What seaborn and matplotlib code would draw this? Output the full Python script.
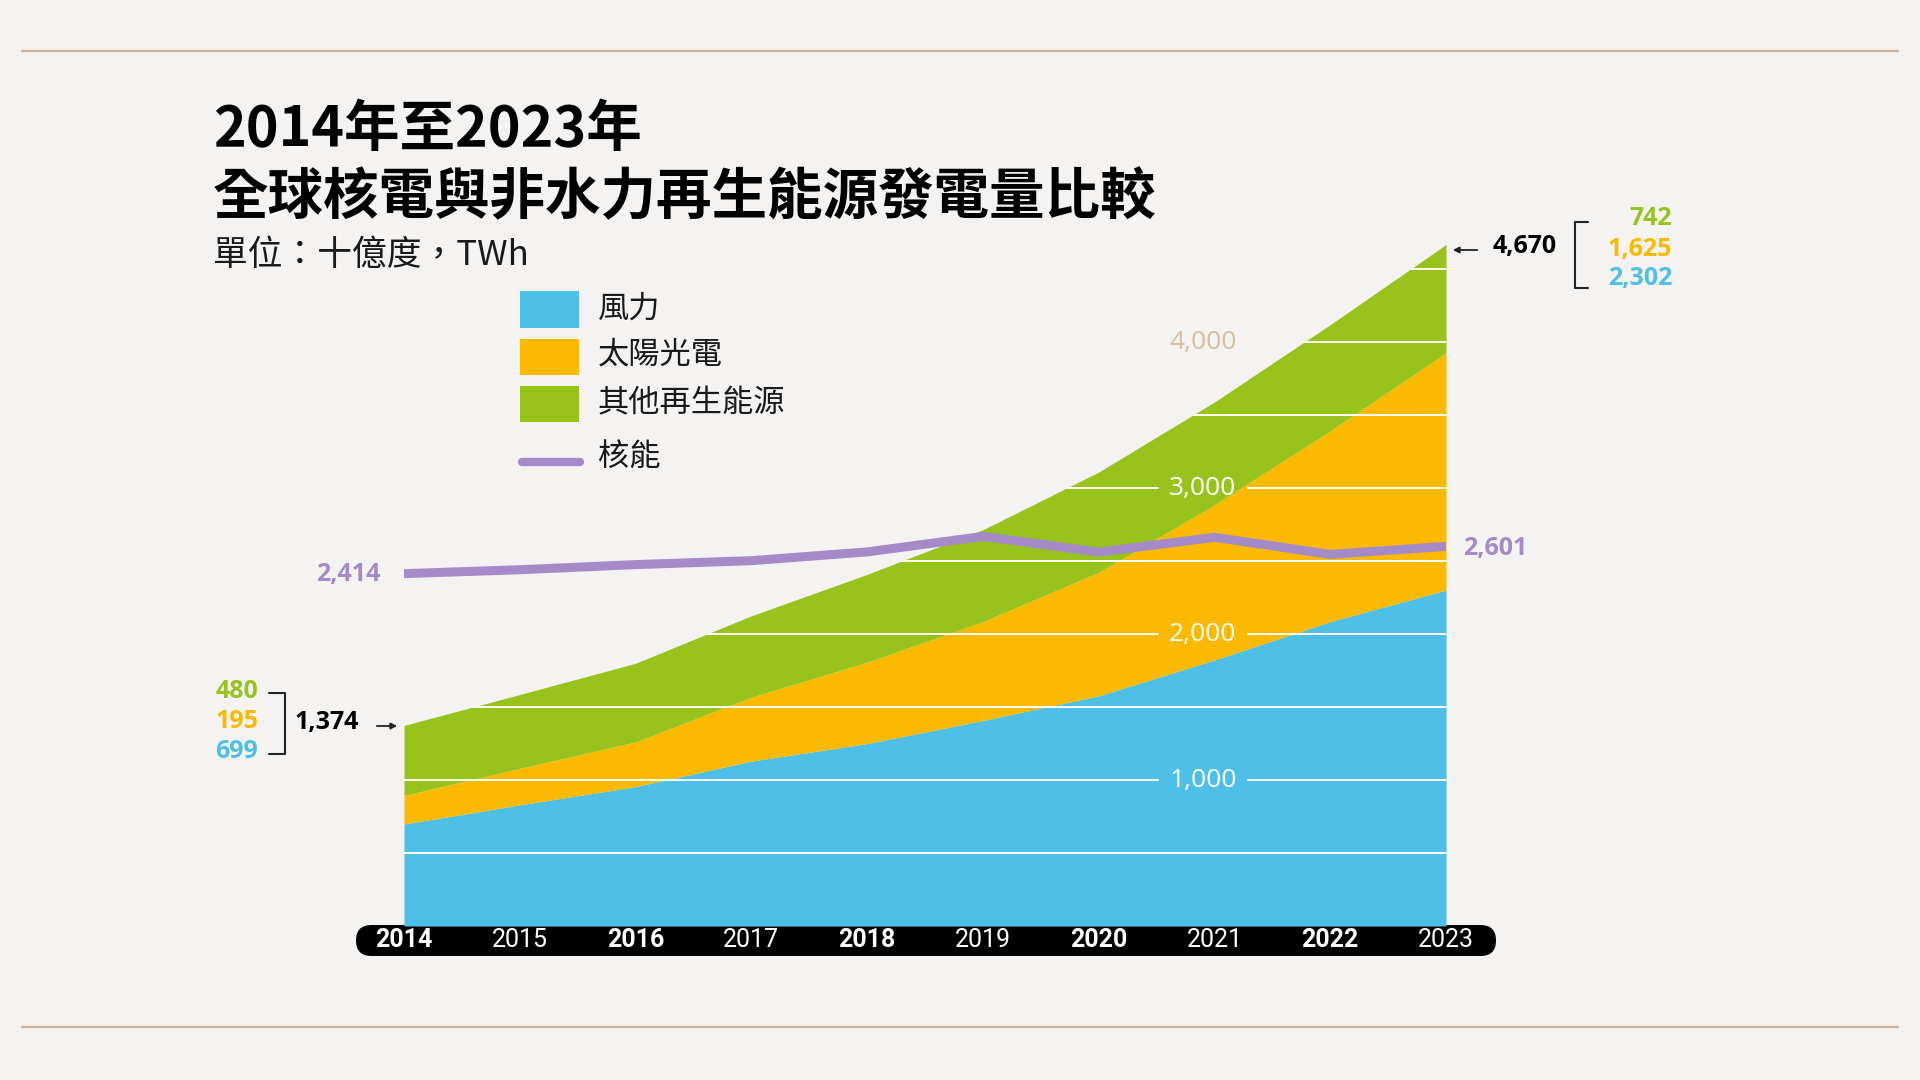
import numpy as np
import pandas as pd
import seaborn as sns
import matplotlib.pyplot as plt
from matplotlib.patches import FancyBboxPatch, Polygon, Rectangle, FancyArrowPatch
from matplotlib.lines import Line2D
from matplotlib.transforms import IdentityTransform

# ---------------- data ----------------
years = [2014, 2015, 2016, 2017, 2018, 2019, 2020, 2021, 2022, 2023]
wind = [699, 830, 955, 1130, 1250, 1408, 1577, 1823, 2085, 2302]
solar = [195, 250, 306, 438, 557, 677, 846, 1062, 1307, 1625]
other = [480, 506, 539, 557, 602, 630, 687, 705, 728, 742]
nuclear = [2414, 2441, 2476, 2503, 2563, 2669, 2562, 2663, 2546, 2601]

grid_values = [500, 1000, 1500, 2000, 2500, 3000, 3500, 4000, 4500]
grid_label_values = [1000, 2000, 3000, 4000]
grid_label_texts = ["1,000", "2,000", "3,000", "4,000"]
bold_years = [2014, 2016, 2018, 2020, 2022]

series_names = ["風力", "太陽光電", "其他再生能源", "核能"]
title_line1 = "2014年至2023年"
title_line2 = "全球核電與非水力再生能源發電量比較"
subtitle = "單位：十億度，TWh"

start_vals = ["480", "195", "699"]
start_total = "1,374"
end_vals = ["742", "1,625", "2,302"]
end_total = "4,670"
nuc_start = "2,414"
nuc_end = "2,601"

# ---------------- style ----------------
BG = "#f5f3f1"
C_WIND = "#4ebfe6"
C_SOLAR = "#fbb900"
C_OTHER = "#98c31d"
C_NUC = "#a48bc8"
C_TAN = "#c9b39b"
C_TAN_TXT = "#d5bf9e"
C_DARK = "#1a1a1a"

sns.set_theme(style="white")
plt.rcParams['font.family'] = ['Noto Sans CJK TC', 'DejaVu Sans']

W, H = 1920, 1080
fig = plt.figure(figsize=(19.2, 10.8), dpi=100)
fig.patch.set_facecolor(BG)

def fx(x):
    return x / W

def fy(y):
    return 1 - y / H

# axes: x 2014 -> px 404, 2023 -> px 1446 ; y 0 -> px 926, 4700 -> px 240
ax = fig.add_axes([fx(404), fy(926), (1446 - 404) / W, (926 - 240) / H])
ax.set_xlim(2014, 2023)
ax.set_ylim(0, 4700)
ax.set_facecolor("none")
for s in ax.spines.values():
    s.set_visible(False)
ax.set_xticks([])
ax.set_yticks([])

df = pd.DataFrame({"year": years, "wind": wind, "solar": solar,
                   "other": other, "nuclear": nuclear})
df["ws"] = df["wind"] + df["solar"]
df["total"] = df["ws"] + df["other"]

ax.fill_between(df["year"], 0, df["wind"], color=C_WIND, lw=0, zorder=1)
ax.fill_between(df["year"], df["wind"], df["ws"], color=C_SOLAR, lw=0, zorder=1)
ax.fill_between(df["year"], df["ws"], df["total"], color=C_OTHER, lw=0, zorder=1)

# clip polygon for gridlines (only drawn over the filled area)
poly_pts = [(years[0], 0)] + list(zip(df["year"], df["total"])) + [(years[-1], 0)]
clip_poly = Polygon(poly_pts, closed=True, transform=ax.transData)

gap_l, gap_r = 2020.51, 2021.29
for v in grid_values:
    if v in grid_label_values[:3]:
        segs = [(2014, gap_l), (gap_r, 2023)]
    else:
        segs = [(2014, 2023)]
    for a, b in segs:
        ln, = ax.plot([a, b], [v, v], color="white", lw=1.4, zorder=2)
        ln.set_clip_path(clip_poly)

for v, t in zip(grid_label_values, grid_label_texts):
    col = "white" if v < 4000 else C_TAN_TXT
    ax.text(2020.9, v, t, color=col, fontsize=19, ha="center", va="center",
            family=['Open Sans', 'DejaVu Sans'], zorder=4)

# nuclear line
sns.lineplot(data=df, x="year", y="nuclear", ax=ax, color=C_NUC, lw=6.5,
             legend=False, zorder=5, solid_capstyle="round", solid_joinstyle="round")
ax.set_xlabel("")
ax.set_ylabel("")

# ---------------- x axis pill ----------------
pill = FancyBboxPatch((356, H - 956), 1140, 31,
                      boxstyle="round,pad=0,rounding_size=15.5",
                      transform=IdentityTransform(), facecolor="black",
                      edgecolor="none", zorder=0)
fig.add_artist(pill)
for yr in years:
    ax.text(yr, (926 - 940) / 686, str(yr), transform=ax.get_xaxis_transform(),
            ha="center", va="center", color="white", fontsize=18,
            fontweight="bold" if yr in bold_years else "normal",
            family=['Roboto', 'DejaVu Sans'], clip_on=False)

# ---------------- title ----------------
fig.text(fx(213), fy(130), title_line1, fontsize=40, fontweight="bold",
         color="black", ha="left", va="center")
fig.text(fx(213), fy(198), title_line2, fontsize=40, fontweight="bold",
         color="black", ha="left", va="center")
fig.text(fx(213), fy(255), subtitle, fontsize=25, color=C_DARK,
         ha="left", va="center")

# ---------------- legend ----------------
legend_cols = [C_WIND, C_SOLAR, C_OTHER]
patch_y = [(291, 328), (339, 375), (386, 422)]
label_y = [309, 355, 403, 458]
for (y0, y1), c in zip(patch_y, legend_cols):
    fig.add_artist(Rectangle((fx(520), fy(y1)), (579 - 520) / W, (y1 - y0) / H,
                             transform=fig.transFigure, facecolor=c, edgecolor="none"))
fig.add_artist(Line2D([fx(522), fx(580)], [fy(462), fy(462)], transform=fig.transFigure,
                      color=C_NUC, lw=6, solid_capstyle="round"))
for name, y in zip(series_names, label_y):
    fig.text(fx(598), fy(y), name, fontsize=22.5, color=C_DARK, ha="left", va="center")

# ---------------- annotations ----------------
num_font = ['Open Sans', 'DejaVu Sans']
left_cols = [C_OTHER, C_SOLAR, C_WIND]
for t, c, y in zip(start_vals, left_cols, [691, 721, 751]):
    fig.text(fx(258), fy(y), t, color=c, fontsize=18, fontweight="bold",
             ha="right", va="center", family=num_font)
fig.add_artist(Line2D([fx(269), fx(285), fx(285), fx(269)],
                      [fy(693), fy(693), fy(754), fy(754)],
                      transform=fig.transFigure, color="#222222", lw=1.5))
fig.text(fx(327), fy(722), start_total, color="black", fontsize=18, fontweight="bold",
         ha="center", va="center", family=num_font)
fig.add_artist(FancyArrowPatch((fx(374), fy(726)), (fx(400), fy(726)),
                               transform=fig.transFigure, arrowstyle="-|>",
                               mutation_scale=9, lw=1.3, color="#222222"))

right_cols = [C_OTHER, C_SOLAR, C_WIND]
for t, c, y in zip(end_vals, right_cols, [219, 249, 279]):
    fig.text(fx(1672), fy(y), t, color=c, fontsize=18, fontweight="bold",
             ha="right", va="center", family=num_font)
fig.add_artist(Line2D([fx(1588), fx(1575), fx(1575), fx(1588)],
                      [fy(222), fy(222), fy(288), fy(288)],
                      transform=fig.transFigure, color="#222222", lw=1.5))
fig.text(fx(1525), fy(247), end_total, color="black", fontsize=18, fontweight="bold",
         ha="center", va="center", family=num_font)
fig.add_artist(FancyArrowPatch((fx(1480), fy(250)), (fx(1450), fy(250)),
                               transform=fig.transFigure, arrowstyle="-|>",
                               mutation_scale=9, lw=1.3, color="#222222"))

fig.text(fx(348), fy(574), nuc_start, color=C_NUC, fontsize=18, fontweight="bold",
         ha="center", va="center", family=num_font)
fig.text(fx(1495), fy(548), nuc_end, color=C_NUC, fontsize=18, fontweight="bold",
         ha="center", va="center", family=num_font)

# ---------------- frame rules ----------------
for yy in [51, 1027]:
    fig.add_artist(Line2D([fx(22), fx(1898)], [fy(yy), fy(yy)],
                          transform=fig.transFigure, color=C_TAN, lw=1.6))

fig.savefig("out.png", dpi=100, facecolor=BG)
